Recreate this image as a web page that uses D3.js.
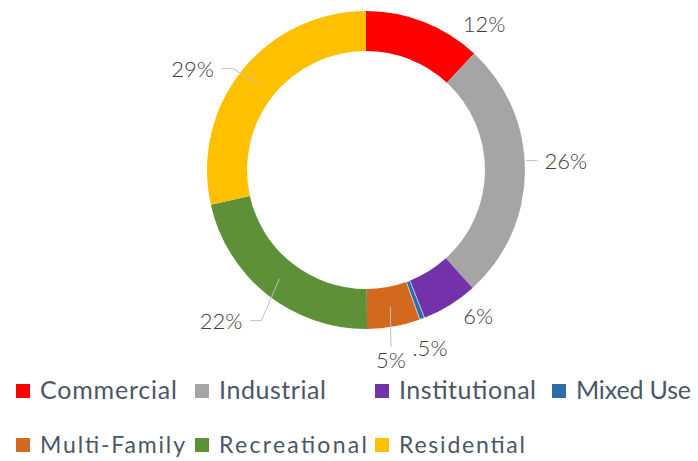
<!DOCTYPE html>
<html>
<head>
<meta charset="utf-8">
<script src="https://cdn.jsdelivr.net/npm/d3@7"></script>
<style>
  html, body { margin: 0; padding: 0; background: #ffffff; }
  svg { display: block; }
</style>
</head>
<body>
<svg id="chart" width="698" height="461"></svg>
<script>
// ---- data ----
const categories = ["Commercial", "Industrial", "Institutional", "Mixed Use", "Multi-Family", "Recreational", "Residential"];
const values = [11.9, 26.4, 5.7, 0.5, 5.4, 21.6, 28.5];
const labelTexts = ["12%", "26%", "6%", ".5%", "5%", "22%", "29%"];
const colors = ["#FF0000", "#A5A5A5", "#7432AA", "#2E6DAD", "#D2691F", "#5E9038", "#FFC000"];

// ---- layout (not data) ----
const cx = 366, cy = 170, outerR = 159, innerR = 119;
// label placement in polar terms: [angle in degrees clockwise from top, radius]
const labelPolar = [[38.9, 188], [87.3, 200], [142.4, 184], [160.2, 189], [172.5, 191], [223.9, 209], [300.3, 201]];
const leaderType = ["none", "edge", "none", "none", "v", "h", "h"];
const legendRows = [[0, 1, 2, 3], [4, 5, 6]];
const legendTextWidths = [137, 107, 137, 115, 145, 148, 126];
const legendColX = [16, 195, 375, 552];
const legendBaseline = [399, 453];
const legendFont = [25, 23];

const svg = d3.select("#chart");
const g = svg.append("g").attr("transform", `translate(${cx},${cy})`);

const pie = d3.pie().sort(null).value(d => d)(values);
const arc = d3.arc().innerRadius(innerR).outerRadius(outerR);
const midArc = d3.arc().innerRadius((innerR + outerR) / 2).outerRadius((innerR + outerR) / 2);

g.selectAll("path.slice")
  .data(pie)
  .join("path")
  .attr("class", "slice")
  .attr("d", arc)
  .attr("fill", (d, i) => colors[i]);

// thin white separators around the tiny slice
g.selectAll("path.sep")
  .data(pie.filter((d, i) => values[i] < 1))
  .join("path")
  .attr("class", "sep")
  .attr("d", arc)
  .attr("fill", "none")
  .attr("stroke", "#ffffff")
  .attr("stroke-width", 0.6);

const polar = (deg, r) => {
  const a = deg * Math.PI / 180;
  return [r * Math.sin(a), -r * Math.cos(a)];
};

// labels
const labelFont = 22;
const labels = g.selectAll("text.lbl")
  .data(pie)
  .join("text")
  .attr("class", "lbl")
  .attr("x", (d, i) => polar(...labelPolar[i])[0])
  .attr("y", (d, i) => polar(...labelPolar[i])[1])
  .attr("text-anchor", "middle")
  .attr("dominant-baseline", "central")
  .attr("font-family", "Lato, 'Open Sans', sans-serif")
  .attr("font-weight", 300)
  .attr("font-size", labelFont)
  .attr("fill", "#404040")
  .text((d, i) => labelTexts[i]);

// leader lines
const leaderData = [];
labels.each(function (d, i) {
  if (leaderType[i] === "none") return;
  const bb = this.getBBox();
  const c = midArc.centroid(d);
  const ly = bb.y + bb.height / 2;
  let pts;
  if (leaderType[i] === "h") {
    const right = bb.x + bb.width / 2 < c[0];
    const sx = right ? bb.x + bb.width + 8 : bb.x - 7;
    const ex = right ? sx + 11 : sx - 11;
    pts = [[sx, ly], [ex, ly], c];
  } else if (leaderType[i] === "edge") {
    const sx = bb.x - 7;
    const ex = Math.sqrt(outerR * outerR - ly * ly) + 1;
    pts = [[sx, ly], [ex, ly]];
  } else {
    const lx = bb.x + bb.width / 2;
    pts = [[lx, bb.y + 1], c];
  }
  leaderData.push(pts);
});
g.selectAll("path.leader")
  .data(leaderData)
  .join("path")
  .attr("class", "leader")
  .attr("d", d3.line())
  .attr("fill", "none")
  .attr("stroke", "#BFBFBF")
  .attr("stroke-width", 1);

// legend
const legend = svg.append("g");
legendRows.forEach((row, r) => {
  row.forEach((idx, col) => {
    const x = legendColX[col];
    const base = legendBaseline[r];
    const fs = legendFont[r];
    legend.append("rect")
      .attr("x", x)
      .attr("y", base - 15)
      .attr("width", 14)
      .attr("height", 14)
      .attr("fill", colors[idx]);
    legend.append("text")
      .attr("x", x + 24)
      .attr("y", base)
      .attr("font-family", "Lato, 'Open Sans', sans-serif")
      .attr("font-size", fs)
      .attr("fill", "#4B5668")
      .attr("textLength", legendTextWidths[idx])
      .attr("lengthAdjust", "spacing")
      .text(categories[idx]);
  });
});
</script>
</body>
</html>
